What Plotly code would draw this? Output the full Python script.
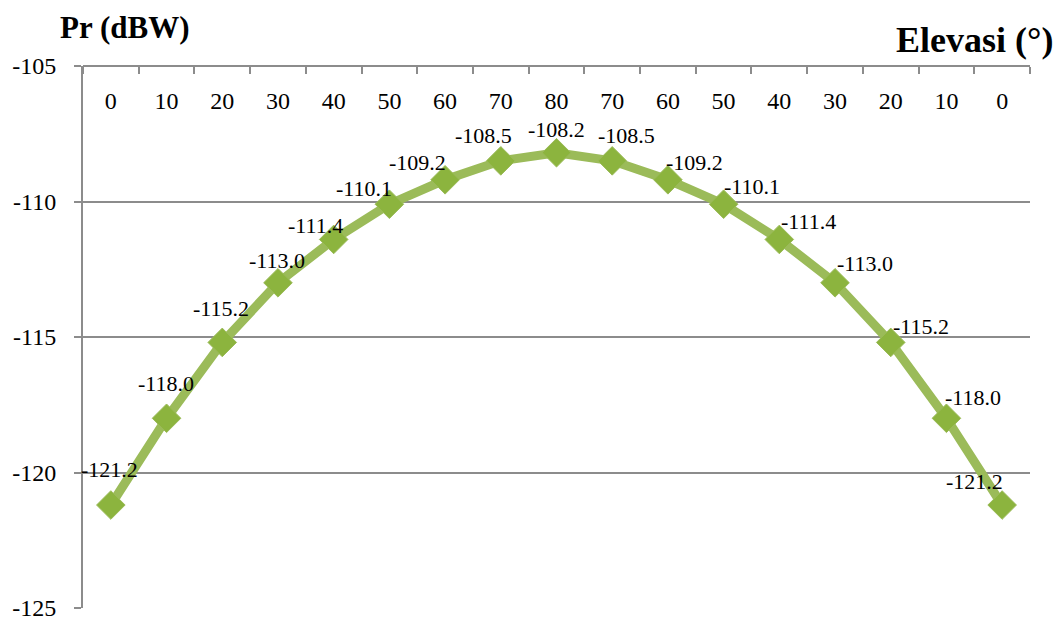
import plotly.graph_objects as go

# Elevation angle (degrees) along the pass, rising then setting
elevation = ["0", "10", "20", "30", "40", "50", "60", "70", "80",
             "70", "60", "50", "40", "30", "20", "10", "0"]
# Received power Pr (dBW)
pr_dbw = [-121.2, -118.0, -115.2, -113.0, -111.4, -110.1, -109.2, -108.5, -108.2,
          -108.5, -109.2, -110.1, -111.4, -113.0, -115.2, -118.0, -121.2]
# Power axis ticks
pr_ticks = [-125, -120, -115, -110, -105]
pr_tick_text = ["-125", "-120", "-115", "-110", "-105"]

# Pixel offsets for each value label (x right, y up)
label_dx = [-1, -1, -1, -1, -18, -25, -28, -17, 0, 14, 27, 28, 29, 30, 30, 27, -28]
label_dy = [36, 35, 34, 22, 14, 16, 17, 25, 23, 25, 17, 18, 18, 19, 16, 21, 24]

FONT = "Liberation Serif, Times New Roman, serif"
GRID = "#8c8c8c"
idx = list(range(len(elevation)))
x_range = [-0.5, len(elevation) - 0.5]

fig = go.Figure()
fig.add_trace(go.Scatter(
    x=idx, y=pr_dbw, mode="lines+markers", xaxis="x2", yaxis="y",
    line=dict(color="#9bbb59", width=9),
    marker=dict(symbol="diamond", size=22, color="#8cb43e",
                line=dict(color="#9bbb59", width=1)),
    hoverinfo="x+y", showlegend=False,
))

for i, v in enumerate(pr_dbw):
    fig.add_annotation(
        xref="x2", yref="y", x=i, y=v, text=f"{v:.1f}", showarrow=False,
        xshift=label_dx[i], yshift=label_dy[i],
        font=dict(family=FONT, size=22, color="black"),
    )

fig.add_annotation(xref="paper", yref="paper", x=0, y=1.0, xshift=-25, yshift=39,
                   xanchor="left", yanchor="middle", text="<b>Pr (dBW)</b>",
                   showarrow=False, font=dict(family=FONT, size=31, color="black"))
fig.add_annotation(xref="paper", yref="paper", x=1.0, y=1.0, xshift=25, yshift=26,
                   xanchor="right", yanchor="middle", text="<b>Elevasi (°)</b>",
                   showarrow=False, font=dict(family=FONT, size=36, color="black"))

fig.update_layout(
    width=1062, height=623,
    margin=dict(l=83, r=32, t=66, b=15),
    paper_bgcolor="white", plot_bgcolor="white",
    font=dict(family=FONT, color="black"),
    # base axis that the power axis is anchored to (not drawn)
    xaxis=dict(range=x_range, visible=False, automargin=False),
    # category axis drawn along the top edge, labels hanging below it
    xaxis2=dict(
        overlaying="x", anchor="free", position=1.0,
        side="bottom", range=x_range, automargin=False,
        tickmode="array", tickvals=idx, ticktext=elevation,
        ticks="", ticklabelstandoff=13,
        tickfont=dict(family=FONT, size=24, color="black"),
        showline=True, linecolor=GRID, linewidth=2,
        showgrid=False, zeroline=False,
        minor=dict(tickvals=[i - 0.5 for i in range(len(elevation) + 1)],
                   ticks="outside", ticklen=7, tickwidth=2, tickcolor=GRID,
                   showgrid=False),
    ),
    yaxis=dict(
        range=[-125, -105], automargin=False,
        tickmode="array", tickvals=pr_ticks, ticktext=pr_tick_text,
        ticks="outside", ticklen=7, tickwidth=2, tickcolor=GRID,
        ticklabelstandoff=13,
        tickfont=dict(family=FONT, size=24, color="black"),
        showline=True, linecolor=GRID, linewidth=2,
        showgrid=True, gridcolor=GRID, gridwidth=2, zeroline=False,
    ),
)

fig.write_html("out.html")
